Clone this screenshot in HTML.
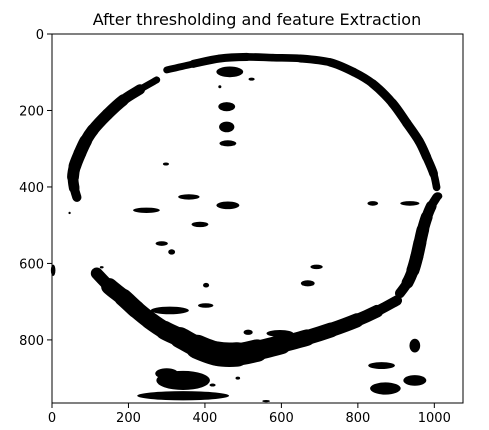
<!DOCTYPE html>
<html><head><meta charset="utf-8"><style>
html,body{margin:0;padding:0;background:#fff;}
svg{display:block;font-family:"DejaVu Sans","Liberation Sans",sans-serif;}
</style></head><body>
<svg id="chart" width="489" height="430" viewBox="0 0 489 430" xmlns="http://www.w3.org/2000/svg">
<text x="257" y="25" font-size="16" text-anchor="middle" fill="#000">After thresholding and feature Extraction</text>
<g id="marks"></g>
<rect x="52" y="34" width="411" height="369" fill="none" stroke="#000" stroke-width="1"/>
<g id="ticks"></g>
</svg>
<script>
const xTicks = [0, 200, 400, 600, 800, 1000];
const yTicks = [0, 200, 400, 600, 800];
// ring arcs: [x, y, thickness] in image pixel units
const topArc = [[300,94,16],[370,78,20],[439,64,22],[510,60,20],[578,62,20],[650,64,20],[727,74,22],[790,100,22],[839,130,22],[890,180,24],[928,233,24],[960,280,24],[980,322,24],[998,365,22],[1006,401,18]];
const leftArc = [[274,120,12],[230,145,24],[186,173,30],[145,210,30],[107,251,30],[88,280,32],[73,312,34],[60,345,32],[55,374,30],[58,402,26],[65,427,22]];
const rightArc = [[1006,427,20],[992,450,26],[980,479,30],[970,512,32],[962,547,34],[954,583,34],[944,618,34],[930,650,28],[910,678,24]];
const bottomArc = [[117,626,22],[150,660,40],[186,689,46],[220,720,46],[256,749,44],[295,775,48],[335,794,50],[380,818,60],[431,836,66],[484,838,62],[536,828,56],[600,812,46],[667,794,40],[730,774,38],[797,749,36],[850,725,30],[902,697,24]];
// blobs: [cx, cy, rx, ry]
const blobs = [[457,190,22,12],[457,243,20,14],[460,286,22,8],[298,340,8,4],[358,426,28,7],[247,461,35,7],[460,448,30,10],[387,498,22,7],[287,548,16,6],[313,570,9,7],[839,443,14,6],[936,443,25,6],[1009,424,12,10],[692,609,16,6],[669,652,18,8],[403,657,8,6],[402,710,20,6],[308,723,50,10],[513,780,12,7],[596,783,35,9],[949,815,14,18],[862,867,35,9],[872,927,40,16],[949,906,30,14],[343,946,120,12],[343,906,70,25],[300,888,30,14],[465,99,35,14],[3,618,6,15],[439,138,4,4],[522,118,8,4],[486,900,6,4],[420,918,8,4],[46,468,3,3],[130,610,5,3],[560,960,10,3]];

const X0 = 52, Y0 = 34, W = 1075, H = 965, PW = 411, PH = 369;
function sx(v){ return X0 + v * PW / W; }
function sy(v){ return Y0 + v * PH / H; }
function sk(v){ return v * PW / W; }
const NS = 'http://www.w3.org/2000/svg';
const marks = document.getElementById('marks');
function drawArc(arr, name){
  const P = arr.map(p => [sx(p[0]), sy(p[1])]);
  for (let i = 0; i < arr.length - 1; i++){
    const p0 = P[Math.max(0, i-1)], p1 = P[i], p2 = P[i+1], p3 = P[Math.min(P.length-1, i+2)];
    const c1 = [p1[0] + (p2[0]-p0[0])/6, p1[1] + (p2[1]-p0[1])/6];
    const c2 = [p2[0] - (p3[0]-p1[0])/6, p2[1] - (p3[1]-p1[1])/6];
    const l = document.createElementNS(NS, 'path');
    
    
    l.setAttribute('d', `M${p1[0]},${p1[1]} C${c1[0]},${c1[1]} ${c2[0]},${c2[1]} ${p2[0]},${p2[1]}`);
    l.setAttribute('fill', 'none');
    l.setAttribute('stroke', '#000');
    l.setAttribute('stroke-linecap', 'round');
    l.setAttribute('stroke-width', sk((arr[i][2] + arr[i+1][2]) / 2));
    marks.appendChild(l);
  }
}
drawArc(topArc, 'top-arc');
drawArc(leftArc, 'left-arc');
drawArc(rightArc, 'right-arc');
drawArc(bottomArc, 'bottom-arc');
blobs.forEach(b => {
  const e = document.createElementNS(NS, 'ellipse');
  
  
  e.setAttribute('cx', sx(b[0])); e.setAttribute('cy', sy(b[1]));
  e.setAttribute('rx', sk(b[2])); e.setAttribute('ry', sk(b[3]));
  e.setAttribute('fill', '#000');
  marks.appendChild(e);
});
const ticks = document.getElementById('ticks');
xTicks.forEach(t => {
  const l = document.createElementNS(NS, 'line');
  
  
  l.setAttribute('x1', sx(t)); l.setAttribute('x2', sx(t));
  l.setAttribute('y1', 403); l.setAttribute('y2', 408);
  l.setAttribute('stroke', '#000');
  ticks.appendChild(l);
  const tx = document.createElementNS(NS, 'text');
  
  
  tx.setAttribute('x', sx(t)); tx.setAttribute('y', 422);
  tx.setAttribute('font-size', '13'); tx.setAttribute('text-anchor', 'middle');
  tx.textContent = t;
  ticks.appendChild(tx);
});
yTicks.forEach(t => {
  const l = document.createElementNS(NS, 'line');
  
  
  l.setAttribute('x1', 47); l.setAttribute('x2', 52);
  l.setAttribute('y1', sy(t)); l.setAttribute('y2', sy(t));
  l.setAttribute('stroke', '#000');
  ticks.appendChild(l);
  const tx = document.createElementNS(NS, 'text');
  
  
  tx.setAttribute('x', 44); tx.setAttribute('y', sy(t) + 5);
  tx.setAttribute('font-size', '13'); tx.setAttribute('text-anchor', 'end');
  tx.textContent = t;
  ticks.appendChild(tx);
});
</script>
</body></html>
